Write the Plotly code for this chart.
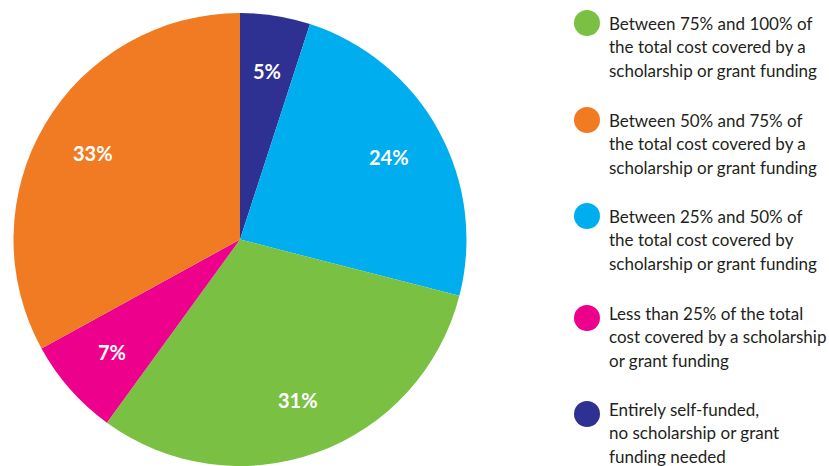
import math
import plotly.graph_objects as go

# Share of students by how much of the total cost was covered by funding
labels = [
    "Entirely self-funded,<br>no scholarship or grant<br>funding needed",
    "Between 25% and 50% of<br>the total cost covered by<br>scholarship or grant funding",
    "Between 75% and 100% of<br>the total cost covered by a<br>scholarship or grant funding",
    "Less than 25% of the total<br>cost covered by a scholarship<br>or grant funding",
    "Between 50% and 75% of<br>the total cost covered by a<br>scholarship or grant funding",
]
values = [5, 24, 31, 7, 33]
colors = ["#2E3192", "#00AEEF", "#7AC143", "#EC008C", "#F07B22"]

# legend order (indices into the lists above)
legend_order = [2, 4, 1, 3, 0]

W, H = 829, 466
FONT = "Lato"

# pie placement in pixels
PIE_X0, PIE_X1 = 13, 467
PIE_Y1 = 453
cx = (PIE_X0 + PIE_X1) / 2
cy = H - PIE_Y1 / 2
radius = (PIE_X1 - PIE_X0) / 2
LABEL_R = 0.75  # value labels sit at this fraction of the radius

fig = go.Figure()
fig.add_trace(go.Pie(
    labels=labels,
    values=values,
    sort=False,
    direction="clockwise",
    rotation=0,
    marker=dict(colors=colors, line=dict(width=0)),
    textinfo="none",
    hoverinfo="label+percent",
    domain=dict(x=[PIE_X0 / W, PIE_X1 / W], y=[0, PIE_Y1 / H]),
    showlegend=False,
))

annotations = []

# value labels at the middle angle of each slice (clockwise from 12 o'clock)
total = sum(values)
cum = 0
for v in values:
    mid = (cum + v / 2) / total * 2 * math.pi
    cum += v
    px = cx + LABEL_R * radius * math.sin(mid)
    py = cy - LABEL_R * radius * math.cos(mid)
    annotations.append(dict(
        text=f"{v}%", xref="paper", yref="paper",
        x=px / W, y=1 - py / H, xanchor="center", yanchor="middle",
        showarrow=False,
        font=dict(family=FONT, size=20, color="white", weight="bold"),
    ))

# custom legend: coloured dots with wrapped text lines
shapes = []
item_top = [23, 120, 216, 313, 409]
dot_y = [23, 120, 216, 318, 414]
line_gap = 23.5
for k, idx in enumerate(legend_order):
    dy = dot_y[k]
    r = 13
    shapes.append(dict(
        type="circle", xref="paper", yref="paper",
        x0=(587 - r) / W, x1=(587 + r) / W,
        y0=1 - (dy + r) / H, y1=1 - (dy - r) / H,
        fillcolor=colors[idx], line=dict(width=0),
    ))
    for j, line in enumerate(labels[idx].split("<br>")):
        y = item_top[k] + j * line_gap
        annotations.append(dict(
            text=line, xref="paper", yref="paper",
            x=607 / W, y=1 - y / H, xanchor="left", yanchor="middle",
            showarrow=False,
            font=dict(family=FONT, size=17, color="#231F20"),
        ))

fig.update_layout(
    width=W, height=H,
    margin=dict(l=0, r=0, t=0, b=0),
    paper_bgcolor="white",
    plot_bgcolor="white",
    shapes=shapes,
    annotations=annotations,
)

fig.write_html("out.html")
